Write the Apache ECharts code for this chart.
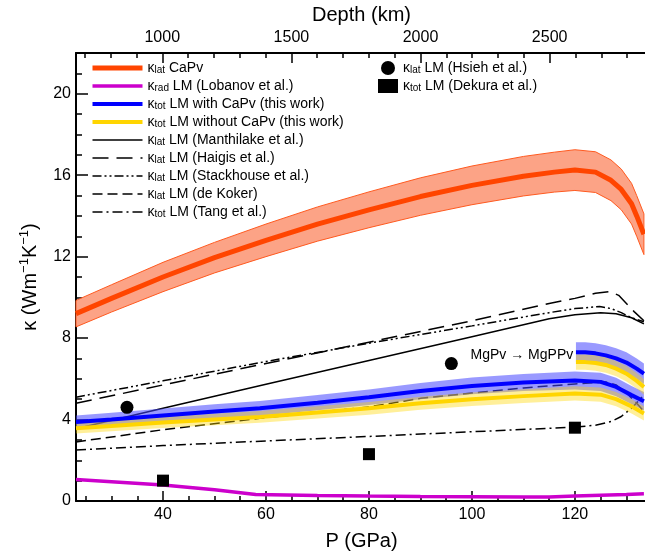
<!DOCTYPE html>
<html>
<head>
<meta charset="utf-8">
<script src="https://cdn.jsdelivr.net/npm/echarts@6/dist/echarts.min.js"></script>
<style>
  html, body { margin: 0; padding: 0; background: #fff; }
  #chart { width: 645px; height: 560px; }
</style>
</head>
<body>
<div id="chart"></div>
<script>
// axis ranges and ticks
const P_MIN = 23.1, P_MAX = 134;
const D_MIN = 666, D_MAX = 2877;
const pMajor = [40, 60, 80, 100, 120];
const pMinor = [25, 30, 35, 45, 50, 55, 65, 70, 75, 85, 90, 95, 105, 110, 115, 125, 130];
const dMajor = [1000, 1500, 2000, 2500];
const dMinor = [700, 800, 900, 1100, 1200, 1300, 1400, 1600, 1700, 1800, 1900, 2100, 2200, 2300, 2400, 2600, 2700, 2800];
const kMajor = [0, 4, 8, 12, 16, 20];
const kMinor = [1, 2, 3, 5, 6, 7, 9, 10, 11, 13, 14, 15, 17, 18, 19, 21];

// kappa_lat CaPv (center + band)
const capP  = [23.1, 30, 40, 50, 60, 70, 80, 90, 100, 110, 116, 120, 124, 127, 129, 131, 132, 133.4];
const capK  = [9.2, 9.95, 11.0, 11.95, 12.8, 13.6, 14.3, 14.95, 15.5, 15.95, 16.15, 16.25, 16.15, 15.75, 15.3, 14.6, 14.0, 13.1];
const capHi = [9.85, 10.62, 11.72, 12.7, 13.6, 14.44, 15.18, 15.87, 16.45, 16.92, 17.13, 17.25, 17.15, 16.75, 16.3, 15.6, 15.0, 14.1];
const capLo = [8.55, 9.28, 10.28, 11.2, 12.0, 12.76, 13.42, 14.03, 14.55, 14.98, 15.17, 15.25, 15.15, 14.75, 14.3, 13.6, 13.0, 12.1];

// kappa_rad LM (Lobanov)
const radP = [23.1, 30, 40, 50, 58, 70, 80, 90, 100, 110, 115, 120, 130, 133.4];
const radK = [1.05, 0.95, 0.78, 0.55, 0.32, 0.27, 0.24, 0.22, 0.21, 0.2, 0.2, 0.25, 0.32, 0.35];

// kappa_tot LM this work, MgPv branch
const totP   = [23.1, 30, 40, 50, 58.8, 70, 80, 90, 100, 110, 120, 125, 128, 131, 133.4];
const blueK  = [3.88, 4.0, 4.2, 4.4, 4.55, 4.83, 5.1, 5.4, 5.65, 5.82, 5.92, 5.85, 5.6, 5.2, 4.9];
const blueHi = [4.2, 4.33, 4.54, 4.75, 4.91, 5.2, 5.48, 5.8, 6.06, 6.24, 6.36, 6.3, 6.05, 5.65, 5.35];
const blueLo = [3.56, 3.67, 3.86, 4.05, 4.19, 4.46, 4.72, 5.0, 5.24, 5.4, 5.48, 5.4, 5.15, 4.75, 4.45];
const yelK   = [3.57, 3.68, 3.85, 4.0, 4.13, 4.35, 4.55, 4.8, 5.0, 5.15, 5.28, 5.22, 5.0, 4.65, 4.3];
const yelHi  = [3.82, 3.94, 4.12, 4.28, 4.42, 4.65, 4.86, 5.12, 5.33, 5.49, 5.63, 5.57, 5.35, 5.0, 4.65];
const yelLo  = [3.32, 3.42, 3.58, 3.72, 3.84, 4.05, 4.24, 4.48, 4.67, 4.81, 4.93, 4.87, 4.65, 4.3, 3.95];

// MgPPv branch
const ppvP      = [120.2, 122, 124, 126, 128, 130, 132, 133.4];
const ppvBlueK  = [7.3, 7.3, 7.25, 7.15, 7.0, 6.8, 6.5, 6.25];
const ppvBlueHi = [7.8, 7.8, 7.75, 7.65, 7.5, 7.3, 7.0, 6.75];
const ppvBlueLo = [6.8, 6.8, 6.75, 6.65, 6.5, 6.3, 6.0, 5.75];
const ppvYelK   = [6.82, 6.82, 6.78, 6.68, 6.5, 6.25, 5.9, 5.6];
const ppvYelHi  = [7.2, 7.2, 7.16, 7.06, 6.88, 6.63, 6.28, 5.98];
const ppvYelLo  = [6.44, 6.44, 6.4, 6.3, 6.12, 5.87, 5.52, 5.22];

// literature curves
const manP = [23.1, 40, 60, 80, 100, 115, 120, 125, 128, 131, 133.4];
const manK = [3.55, 4.55, 5.73, 6.9, 8.07, 8.95, 9.15, 9.25, 9.2, 9.0, 8.7];
const haiP = [23.1, 40, 60, 80, 100, 115, 120, 124, 126.8, 128.5, 130, 131.5, 133.4];
const haiK = [4.8, 5.7, 6.75, 7.8, 8.85, 9.7, 9.95, 10.2, 10.28, 10.1, 9.7, 9.3, 8.85];
const staP = [23.1, 40, 60, 80, 100, 115, 120, 124.8, 127, 129, 131, 133.4];
const staK = [5.1, 5.9, 6.85, 7.75, 8.6, 9.25, 9.45, 9.55, 9.45, 9.25, 9.0, 8.8];
const dkP  = [23.1, 40, 58.8, 80, 90, 100, 110, 120, 126, 128, 130, 132, 133.4];
const dkK  = [2.9, 3.5, 4.06, 4.62, 5.04, 5.3, 5.55, 5.75, 5.84, 5.7, 5.3, 4.8, 4.4];
const tangP = [23.1, 40, 60, 80, 100, 115, 120, 124, 127, 129, 131, 133.4];
const tangK = [2.5, 2.72, 2.95, 3.17, 3.4, 3.57, 3.63, 3.72, 3.9, 4.15, 4.55, 5.2];

// points
const hsiehP = [33, 96];
const hsiehK = [4.6, 6.75];
const dekuraP = [40, 80, 120];
const dekuraK = [1.0, 2.3, 3.6];

const noteText = 'MgPv \u2192 MgPPv';
const noteAt = [109.7, 7.15];

const FONT = 'Liberation Sans, Arial, sans-serif';

const pairs = (xs, ys) => xs.map((x, i) => [x, ys[i]]);

function band(P, lo, hi, fill, stroke, z) {
  return {
    type: 'custom',
    z: z,
    silent: true,
    data: P.map((p, i) => [p, lo[i], hi[i]]),
    encode: { x: 0, y: [1, 2] },
    renderItem: function (params, api) {
      if (params.dataIndex !== 0) return null;
      const pts = [];
      for (let i = 0; i < P.length; i++) pts.push(api.coord([P[i], hi[i]]));
      for (let i = P.length - 1; i >= 0; i--) pts.push(api.coord([P[i], lo[i]]));
      return {
        type: 'polygon',
        shape: { points: pts },
        style: { fill: fill, stroke: stroke || 'none', lineWidth: stroke ? 1 : 0 }
      };
    }
  };
}

function curve(name, xs, ys, color, width, dash, z) {
  return {
    name: name,
    type: 'line',
    data: pairs(xs, ys),
    symbol: 'none',
    z: z,
    lineStyle: { color: color, width: width, type: dash || 'solid' },
    itemStyle: { color: color }
  };
}

const chart = echarts.init(document.getElementById('chart'));

const tickLine = { color: '#000', width: 1.5 };
const labelStyle = { fontSize: 16, color: '#000', fontFamily: FONT };
const legendText = {
  fontSize: 14, color: '#000', fontFamily: FONT,
  rich: { s: { fontSize: 10, verticalAlign: 'bottom', lineHeight: 9, fontFamily: FONT, color: '#000' } }
};
const subFmt = n => n.replace(/^κ(lat|rad|tot)/, 'κ{s|$1}');

chart.setOption({
  animation: false,
  backgroundColor: '#fff',
  textStyle: { fontFamily: FONT },
  grid: { left: 76, top: 53, right: -2, bottom: 59, outerBoundsMode: 'none' },
  legend: [
    {
      left: 90, top: 61, orient: 'vertical', padding: 0,
      itemWidth: 50, itemHeight: 14, itemGap: 4,
      itemStyle: { opacity: 0 },
      lineStyle: { width: 'inherit' },
      data: ['κlat CaPv', 'κrad LM (Lobanov et al.)', 'κtot LM with CaPv (this work)',
        'κtot LM without CaPv (this work)', 'κlat LM (Manthilake et al.)', 'κlat LM (Haigis et al.)',
        'κlat LM (Stackhouse et al.)', 'κlat LM (de Koker)', 'κtot LM (Tang et al.)'],
      formatter: subFmt,
      textStyle: legendText
    },
    {
      left: 378, top: 61, orient: 'vertical', padding: 0,
      itemWidth: 20, itemHeight: 14, itemGap: 4,
      data: ['κlat LM (Hsieh et al.)', 'κtot LM (Dekura et al.)'],
      formatter: subFmt,
      textStyle: legendText
    }
  ],
  xAxis: [
    {
      type: 'value', position: 'bottom', min: P_MIN, max: P_MAX,
      name: 'P (GPa)', nameLocation: 'middle', nameGap: 30,
      nameTextStyle: { fontSize: 20, color: '#000', fontFamily: FONT },
      axisLine: { lineStyle: { color: '#000', width: 2 } },
      axisTick: { inside: true, length: 10, customValues: pMajor, lineStyle: tickLine },
      axisLabel: Object.assign({ customValues: pMajor, margin: 6 }, labelStyle),
      splitLine: { show: false }
    },
    {
      type: 'value', position: 'bottom', min: P_MIN, max: P_MAX,
      axisLine: { show: false },
      axisTick: { inside: true, length: 5, customValues: pMinor, lineStyle: tickLine },
      axisLabel: { show: false }, splitLine: { show: false }
    },
    {
      type: 'value', position: 'top', min: D_MIN, max: D_MAX,
      name: 'Depth (km)', nameLocation: 'middle', nameGap: 28,
      nameTextStyle: { fontSize: 20, color: '#000', fontFamily: FONT },
      axisLine: { lineStyle: { color: '#000', width: 2 } },
      axisTick: { inside: true, length: 10, customValues: dMajor, lineStyle: tickLine },
      axisLabel: Object.assign({ customValues: dMajor, margin: 7, formatter: v => String(v) }, labelStyle),
      splitLine: { show: false }
    },
    {
      type: 'value', position: 'top', min: D_MIN, max: D_MAX,
      axisLine: { show: false },
      axisTick: { inside: true, length: 5, customValues: dMinor, lineStyle: tickLine },
      axisLabel: { show: false }, splitLine: { show: false }
    }
  ],
  yAxis: [
    {
      type: 'value', position: 'left', min: 0, max: 22,
      name: '{a|κ (Wm}{p|−1}{a|K}{p|−1}{a|)}', nameLocation: 'middle', nameGap: 34,
      nameTextStyle: {
        color: '#000', fontFamily: FONT,
        rich: {
          a: { fontSize: 20, lineHeight: 24, fontFamily: FONT, color: '#000' },
          p: { fontSize: 13, lineHeight: 13, verticalAlign: 'top', fontFamily: FONT, color: '#000' }
        }
      },
      axisLine: { lineStyle: { color: '#000', width: 2 } },
      axisTick: { inside: true, length: 12, customValues: kMajor, lineStyle: tickLine },
      axisLabel: Object.assign({ customValues: kMajor, margin: 5 }, labelStyle),
      splitLine: { show: false }
    },
    {
      type: 'value', position: 'left', min: 0, max: 22,
      axisLine: { show: false },
      axisTick: { inside: true, length: 6, customValues: kMinor, lineStyle: tickLine },
      axisLabel: { show: false }, splitLine: { show: false }
    }
  ],
  series: [
    band(capP, capLo, capHi, '#fca386', '#ff5a20', 1),
    curve('κlat CaPv', capP, capK, '#ff4500', 5, null, 2),
    curve('κlat LM (Manthilake et al.)', manP, manK, '#000', 1.5, null, 3),
    curve('κlat LM (Haigis et al.)', haiP, haiK, '#000', 1.5, [16, 8], 3),
    curve('κlat LM (Stackhouse et al.)', staP, staK, '#000', 1.5, [9, 3, 2, 3, 2, 3], 3),
    curve('κlat LM (de Koker)', dkP, dkK, '#000', 1.5, [10, 5], 3),
    curve('κtot LM (Tang et al.)', tangP, tangK, '#000', 1.5, [10, 4, 2, 4], 3),
    band(totP, blueLo, blueHi, 'rgba(70,70,255,0.55)', null, 4),
    band(ppvP, ppvBlueLo, ppvBlueHi, 'rgba(70,70,255,0.55)', null, 4),
    band(totP, yelLo, yelHi, 'rgba(255,215,0,0.4)', null, 4),
    band(ppvP, ppvYelLo, ppvYelHi, 'rgba(255,215,0,0.4)', null, 4),
    curve('κtot LM with CaPv (this work)', totP, blueK, '#0000ff', 4, null, 5),
    curve('κtot LM with CaPv (this work)', ppvP, ppvBlueK, '#0000ff', 4, null, 5),
    curve('κtot LM without CaPv (this work)', totP, yelK, '#ffd500', 4, null, 5),
    curve('κtot LM without CaPv (this work)', ppvP, ppvYelK, '#ffd500', 4, null, 5),
    curve('κrad LM (Lobanov et al.)', radP, radK, '#cc00cc', 3.5, null, 5),
    {
      name: 'κlat LM (Hsieh et al.)', type: 'scatter', z: 6,
      symbol: 'circle', symbolSize: 13, itemStyle: { color: '#000', opacity: 1 },
      data: pairs(hsiehP, hsiehK)
    },
    {
      name: 'κtot LM (Dekura et al.)', type: 'scatter', z: 6,
      symbol: 'rect', symbolSize: 12, itemStyle: { color: '#000', opacity: 1 },
      data: pairs(dekuraP, dekuraK)
    },
    {
      type: 'scatter', z: 6, symbolSize: 0, silent: true,
      itemStyle: { opacity: 1 },
      data: [noteAt],
      label: { show: true, position: 'inside', formatter: noteText, fontSize: 14, color: '#000', opacity: 1, fontFamily: FONT }
    }
  ]
});
</script>
</body>
</html>
